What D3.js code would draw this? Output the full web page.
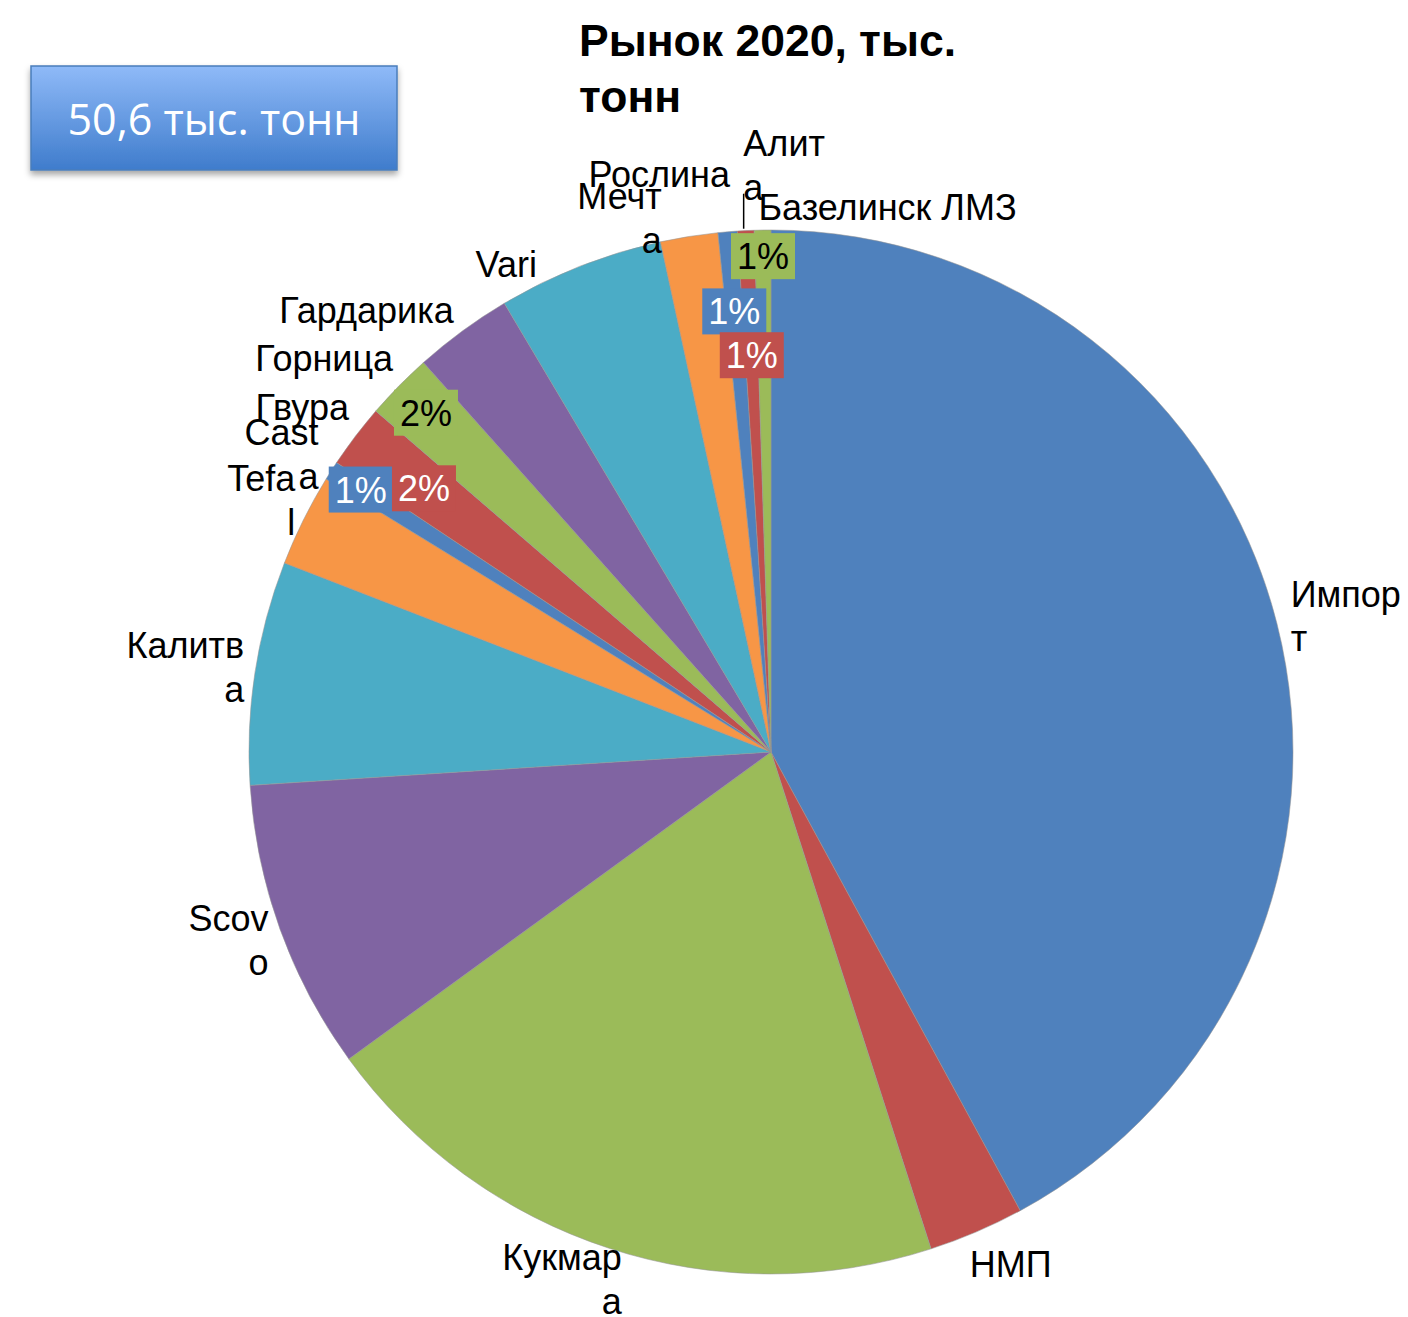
<!DOCTYPE html>
<html>
<head>
<meta charset="utf-8">
<script src="https://d3js.org/d3.v7.min.js"></script>
<style>
  body { margin: 0; background: #fff; }
</style>
</head>
<body>
<div id="chart"></div>
<script>
// market 2020, thousand tonnes
var brands = ["Импорт", "НМП", "Кукмара", "Scovo", "Калитва", "Tefal", "Casta", "Гвура",
              "Горница", "Гардарика", "Vari", "Мечта", "Рослина", "Алита", "Базелинск ЛМЗ"];
var volumes = [21.3, 1.5, 10.1, 4.55, 3.5, 1.45, 0.3, 1.0, 1.05, 1.55, 2.6, 0.9, 0.3, 0.26, 0.26];
var totalLabel = "50,6 тыс. тонн";
var title = ["Рынок 2020, тыс.", "тонн"];
// which slices also show their share
var showPct = ["Casta", "Гвура", "Горница", "Рослина", "Алита", "Базелинск ЛМЗ"];

var colors = ["#4F81BD", "#C0504D", "#9BBB59", "#8064A2", "#4BACC6", "#F79646"];

var W = 1408, H = 1317, cx = 771, cy = 752, R = 522;

var svg = d3.select("#chart").append("svg")
  .attr("width", W).attr("height", H)
  .style("font-family", "'Liberation Sans', Arial, sans-serif");

var defs = svg.append("defs");
var grad = defs.append("linearGradient").attr("id", "boxGrad")
  .attr("x1", 0).attr("y1", 0).attr("x2", 0).attr("y2", 1);
grad.append("stop").attr("offset", "0%").attr("stop-color", "#8fbaf8");
grad.append("stop").attr("offset", "100%").attr("stop-color", "#3f7ccc");
var shadow = defs.append("filter").attr("id", "shadow")
  .attr("x", "-10%").attr("y", "-10%").attr("width", "130%").attr("height", "140%");
shadow.append("feDropShadow").attr("dx", 0).attr("dy", 4).attr("stdDeviation", 3)
  .attr("flood-color", "#000").attr("flood-opacity", 0.35);

// total box
svg.append("rect")
  .attr("x", 31).attr("y", 66).attr("width", 366).attr("height", 104)
  .attr("fill", "url(#boxGrad)").attr("stroke", "#4a7ebb").attr("stroke-width", 1.5)
  .attr("filter", "url(#shadow)");
svg.append("text")
  .attr("x", 214).attr("y", 135)
  .attr("text-anchor", "middle")
  .style("font-family", "'Open Sans', sans-serif")
  .style("font-size", "43px").attr("fill", "#fff")
  .text(totalLabel);

// title
svg.append("text")
  .attr("x", 579).attr("y", 56)
  .style("font-weight", "bold").style("font-size", "44.5px")
  .selectAll("tspan").data(title).enter().append("tspan")
  .attr("x", 579).attr("dy", function(d, i) { return i ? 56 : 0; })
  .text(function(d) { return d; });

var data = brands.map(function(b, i) { return { name: b, value: volumes[i], i: i }; });
var total = d3.sum(volumes);

var pie = d3.pie().sort(null).value(function(d) { return d.value; });
var arcs = pie(data);
var arc = d3.arc().innerRadius(0).outerRadius(R);

var g = svg.append("g").attr("transform", "translate(" + cx + "," + cy + ")");

g.selectAll("path.slice").data(arcs).enter().append("path")
  .attr("class", "slice")
  .attr("d", arc)
  .attr("fill", function(d) { return colors[d.index % colors.length]; })
  .attr("stroke", "rgba(150,150,150,0.55)")
  .attr("stroke-width", 1);

// label layout: lines as Excel wrapped them, alignment, nudges from the arc point
var lines = {
  "Импорт": ["Импор", "т"], "Кукмара": ["Кукмар", "а"], "Scovo": ["Scov", "o"],
  "Калитва": ["Калитв", "а"], "Tefal": ["Tefa", "l"], "Casta": ["Cast", "a"],
  "Мечта": ["Мечт", "а"], "Алита": ["Алит", "а"]
};
var nudge = {
  "Импорт": [6, -14], "НМП": [-10, 38], "Кукмара": [15, 14], "Scovo": [-4, -1],
  "Калитва": [-3, -13], "Tefal": [-1, -25], "Casta": [-6, -21], "Гвура": [0, -11],
  "Горница": [0, -9], "Гардарика": [-4, -2], "Vari": [-40, 18], "Мечта": [-26, -20],
  "Рослина": [3, -37], "Алита": [-2, -67], "Базелинск ЛМЗ": [-4, -2]
};
var leftAligned = ["Импорт", "НМП", "Алита", "Базелинск ЛМЗ"];
// radius (share of R) of the percent boxes
var pctRadius = {
  "Casta": 0.933, "Гвура": 0.835, "Горница": 0.927,
  "Рослина": 0.847, "Алита": 0.761, "Базелинск ЛМЗ": 0.95
};

function mid(d) { return (d.startAngle + d.endAngle) / 2; }

var labelG = g.append("g").style("font-size", "36px").attr("fill", "#000");
arcs.forEach(function(d) {
  var a = mid(d), r0 = R + 8;
  var n = nudge[d.data.name] || [0, 0];
  var x = r0 * Math.sin(a) + n[0], y = -r0 * Math.cos(a) + n[1];
  var anchor = leftAligned.indexOf(d.data.name) >= 0 ? "start" : "end";
  var t = labelG.append("text")
    .attr("x", x).attr("y", y)
    .attr("text-anchor", anchor);
  (lines[d.data.name] || [d.data.name]).forEach(function(s, k) {
    t.append("tspan").attr("x", x).attr("dy", k ? 44 : 0).text(s);
  });
});

// leader line for Алита
var alita = arcs[brands.indexOf("Алита")];
var la = mid(alita) - 0.004;
g.append("line")
  .attr("x1", R * Math.sin(la)).attr("y1", -R * Math.cos(la) - 2)
  .attr("x2", R * Math.sin(la)).attr("y2", -R * Math.cos(la) - 37)
  .attr("stroke", "#000").attr("stroke-width", 1.5);

// percent boxes
var fmt = d3.format(".0%");
arcs.filter(function(d) { return showPct.indexOf(d.data.name) >= 0; }).forEach(function(d) {
  var a = mid(d), r = R * pctRadius[d.data.name];
  var x = r * Math.sin(a), y = -r * Math.cos(a);
  var col = colors[d.index % colors.length];
  var txt = fmt(d.data.value / total);
  var bw = 64, bh = 46;
  g.append("rect")
    .attr("x", x - bw / 2).attr("y", y - bh / 2)
    .attr("width", bw).attr("height", bh)
    .attr("fill", col);
  g.append("text")
    .attr("x", x).attr("y", y + 13)
    .attr("text-anchor", "middle")
    .style("font-size", "36px")
    .attr("fill", col === "#9BBB59" ? "#000" : "#fff")
    .text(txt);
});
</script>
</body>
</html>
